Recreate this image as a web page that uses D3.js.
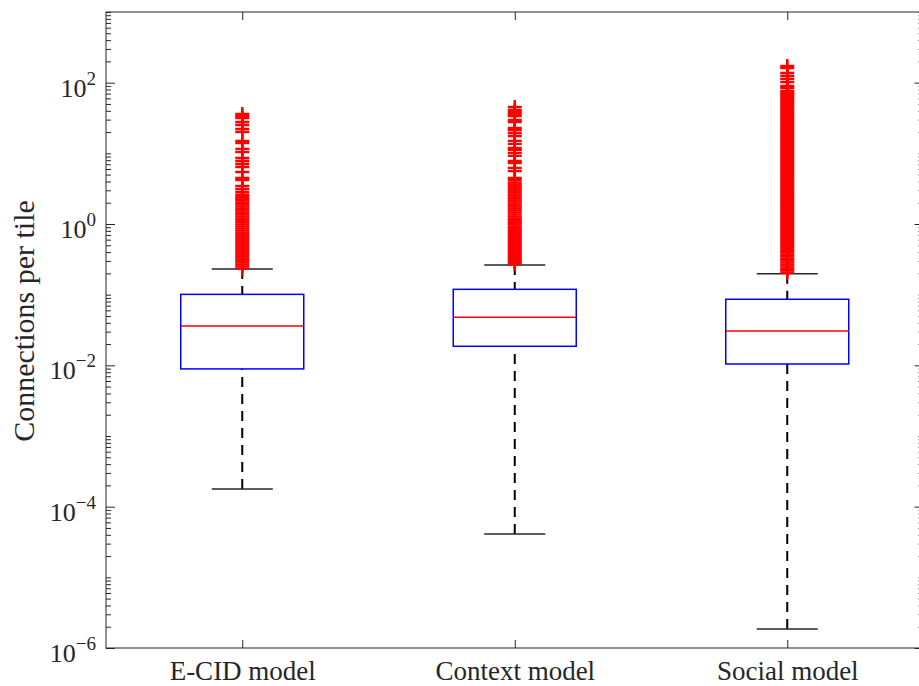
<!DOCTYPE html>
<html>
<head>
<meta charset="utf-8">
<script src="https://cdn.jsdelivr.net/npm/d3@7"></script>
<style>
  body { margin: 0; background: #fff; }
  svg { display: block; font-family: "Liberation Serif", "Times New Roman", serif; }
</style>
</head>
<body>
<div id="chart"></div>
<script>
// Box statistics (one entry per model)
var groups = ["E-CID model", "Context model", "Social model"];
var q1 = [0.0089, 0.0186, 0.01045];
var medians = [0.036, 0.0478, 0.0306];
var q3 = [0.101, 0.119, 0.0861];
var whiskerLow = [1.78e-4, 4.1e-5, 1.86e-6];
var whiskerHigh = [0.231, 0.263, 0.198];

// Outliers (red crosses); the solid red band is read as a dense run of points
var outliersECID = [0.235, 0.251, 0.268, 0.286, 0.305, 0.325, 0.347, 0.370, 0.395, 0.422,
  0.450, 0.480, 0.512, 0.547, 0.583, 0.622, 0.664, 0.709, 0.756, 0.807, 0.861, 0.919,
  0.981, 1.05, 1.12, 1.19, 1.27, 1.36, 1.45, 1.55, 1.65, 1.76, 1.88, 2.00, 2.14, 2.28,
  2.43, 2.60, 2.84, 3.13, 3.45, 4.2, 4.48, 5.45, 6.4, 7.06, 7.8, 8.6, 10.4, 11.5, 14.0,
  15.0, 20.0, 22.1, 25.2, 27.8, 31.6, 33.8, 36.0];
var outliersContext = [0.270, 0.288, 0.307, 0.328, 0.350, 0.373, 0.398, 0.425, 0.454,
  0.484, 0.517, 0.551, 0.588, 0.628, 0.670, 0.715, 0.763, 0.814, 0.869, 0.927, 0.990,
  1.06, 1.13, 1.20, 1.28, 1.37, 1.46, 1.56, 1.66, 1.77, 1.89, 2.02, 2.16, 2.30, 2.45,
  2.62, 2.80, 2.98, 3.18, 3.40, 3.62, 3.87, 4.2, 4.48, 5.6, 6.2, 7.3, 7.8, 9.2, 10.1,
  11.2, 11.9, 13.6, 15.0, 17.6, 19.4, 21.4, 22.8, 27.8, 29.6, 33.8, 36.0, 38.5, 41.0, 45.3];
var outliersSocial = [0.205, 0.219, 0.233, 0.249, 0.266, 0.284, 0.303, 0.323, 0.345,
  0.368, 0.393, 0.419, 0.447, 0.477, 0.509, 0.543, 0.580, 0.619, 0.660, 0.705, 0.752,
  0.802, 0.856, 0.914, 0.975, 1.04, 1.11, 1.18, 1.26, 1.35, 1.44, 1.54, 1.64, 1.75, 1.87,
  1.99, 2.13, 2.27, 2.42, 2.58, 2.76, 2.94, 3.14, 3.35, 3.58, 3.82, 4.07, 4.35, 4.64,
  4.95, 5.28, 5.64, 6.01, 6.42, 6.85, 7.31, 7.80, 8.32, 8.88, 9.48, 10.1, 10.8, 11.5,
  12.3, 13.1, 14.0, 14.9, 15.9, 17.0, 18.2, 19.4, 20.7, 22.1, 23.5, 25.1, 26.8, 28.6,
  30.5, 32.6, 34.8, 37.1, 39.6, 42.2, 45.1, 48.1, 51.6, 55.1, 58.7, 62.7, 66.9, 71.4,
  76.2, 84, 89.7, 102, 113, 124, 137, 161, 172];
var outliers = [outliersECID, outliersContext, outliersSocial];

// Y tick labels: 10^exponent
var yTickValues = [1e-6, 1e-4, 1e-2, 1, 1e2];
var yTickExponents = ["\u22126", "\u22124", "\u22122", "0", "2"];

var yLabel = "Connections per tile";

// Canvas and plot box (names avoid window.top etc.)
var w = 919, h = 686;
var plotLeft = 106, plotRight = 923.5, plotTop = 12, plotBottom = 648;
var axisColor = "#262626";

var svg = d3.select("#chart").append("svg")
    .attr("width", w)
    .attr("height", h);

var x = d3.scaleLinear().domain([0.5, 3.5]).range([plotLeft, plotRight]);
var y = d3.scaleLog().domain([1e-6, 1e3]).range([plotBottom, plotTop]);

var boxHalf = 61.5;   // half box width in px
var capHalf = 30.5;   // half whisker cap width

// minor ticks (2..9 x 10^k and odd decades)
var minorTicks = y.ticks().filter(function (t) {
  return yTickValues.indexOf(t) < 0;
});

function styleAxis(g) {
  g.select(".domain").remove();
  g.selectAll(".tick line").attr("stroke", axisColor).attr("stroke-width", 1);
}

// left axis: major + minor ticks, pointing inward
svg.append("g").attr("transform", "translate(" + plotLeft + ",0)")
  .call(d3.axisLeft(y).tickValues(yTickValues).tickSizeInner(-9).tickSizeOuter(0).tickFormat(""))
  .call(styleAxis);
svg.append("g").attr("transform", "translate(" + plotLeft + ",0)")
  .call(d3.axisLeft(y).tickValues(minorTicks).tickSizeInner(-5).tickSizeOuter(0).tickFormat(""))
  .call(styleAxis);

// right axis (mirrored ticks)
svg.append("g").attr("transform", "translate(" + plotRight + ",0)")
  .call(d3.axisRight(y).tickValues(yTickValues).tickSizeInner(-9).tickSizeOuter(0).tickFormat(""))
  .call(styleAxis);
svg.append("g").attr("transform", "translate(" + plotRight + ",0)")
  .call(d3.axisRight(y).tickValues(minorTicks).tickSizeInner(-5).tickSizeOuter(0).tickFormat(""))
  .call(styleAxis);

// bottom axis with category labels
var xAxisG = svg.append("g").attr("transform", "translate(0," + plotBottom + ")")
  .call(d3.axisBottom(x).tickValues([1, 2, 3]).tickSizeInner(-8).tickSizeOuter(0).tickPadding(13)
    .tickFormat(function (d) { return groups[d - 1]; }))
  .call(styleAxis);
xAxisG.selectAll("text")
  .attr("fill", axisColor)
  .style("font-size", "27px")
  .style("font-family", "'Liberation Serif', 'Times New Roman', serif");

// top axis (ticks only)
svg.append("g").attr("transform", "translate(0," + plotTop + ")")
  .call(d3.axisTop(x).tickValues([1, 2, 3]).tickSizeInner(-8).tickSizeOuter(0).tickFormat(""))
  .call(styleAxis);

// frame
svg.append("rect")
  .attr("x", plotLeft).attr("y", plotTop)
  .attr("width", plotRight - plotLeft).attr("height", plotBottom - plotTop)
  .attr("fill", "none")
  .attr("stroke", axisColor)
  .attr("stroke-width", 1);

// y tick labels 10^n with superscript
var yLabels = svg.append("g").attr("fill", axisColor);
yTickValues.forEach(function (v, i) {
  var t = yLabels.append("text")
    .attr("x", plotLeft - 10)
    .attr("y", y(v) + 14)
    .attr("text-anchor", "end")
    .style("font-size", "26px");
  t.append("tspan").text("10");
  t.append("tspan")
    .attr("dy", -12)
    .style("font-size", "19px")
    .text(yTickExponents[i]);
});

// y axis title
svg.append("text")
  .attr("transform", "translate(34,321) rotate(-90)")
  .attr("text-anchor", "middle")
  .attr("fill", axisColor)
  .style("font-size", "30px")
  .text(yLabel);

// boxes, whiskers, caps, medians, outliers
groups.forEach(function (g, i) {
  var cx = x(i + 1);

  // dashed whiskers, drawn from the cap toward the box
  svg.append("line")
    .attr("x1", cx).attr("x2", cx)
    .attr("y1", y(whiskerHigh[i])).attr("y2", y(q3[i]))
    .attr("stroke", "#000").attr("stroke-width", 2)
    .attr("stroke-dasharray", "10,7");
  svg.append("line")
    .attr("x1", cx).attr("x2", cx)
    .attr("y1", y(whiskerLow[i])).attr("y2", y(q1[i]))
    .attr("stroke", "#000").attr("stroke-width", 2)
    .attr("stroke-dasharray", "10,7");

  // caps
  [whiskerHigh[i], whiskerLow[i]].forEach(function (v) {
    svg.append("line")
      .attr("x1", cx - capHalf).attr("x2", cx + capHalf)
      .attr("y1", y(v)).attr("y2", y(v))
      .attr("stroke", axisColor).attr("stroke-width", 1.5);
  });

  // box
  svg.append("rect")
    .attr("x", cx - boxHalf)
    .attr("y", y(q3[i]))
    .attr("width", boxHalf * 2)
    .attr("height", y(q1[i]) - y(q3[i]))
    .attr("fill", "none")
    .attr("stroke", "#0000ff")
    .attr("stroke-width", 1.5);

  // median
  svg.append("line")
    .attr("x1", cx - boxHalf).attr("x2", cx + boxHalf)
    .attr("y1", y(medians[i])).attr("y2", y(medians[i]))
    .attr("stroke", "#ff0000").attr("stroke-width", 1.5);

  // outliers as '+' markers
  svg.append("g").selectAll("path")
    .data(outliers[i])
    .enter().append("path")
    .attr("transform", function (d) { return "translate(" + cx + "," + y(d) + ")"; })
    .attr("d", "M-7,0H7M0,-7V7")
    .attr("fill", "none")
    .attr("stroke", "#ff0000")
    .attr("stroke-width", 2.4);
});
</script>
</body>
</html>
